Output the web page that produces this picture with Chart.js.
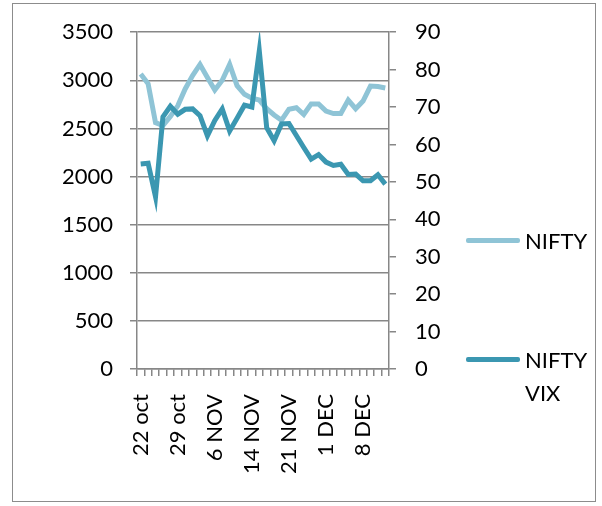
<!DOCTYPE html>
<html>
<head>
<meta charset="utf-8">
<script src="https://cdn.jsdelivr.net/npm/chart.js@4.4.1/dist/chart.umd.min.js"></script>
<style>
  html, body { margin: 0; padding: 0; background: #ffffff; }
  #wrap { position: relative; width: 602px; height: 506px; font-family: 'Lato', sans-serif; }
  #frame { position: absolute; left: 12px; top: 3px; width: 582px; height: 497px; border: 1.5px solid #8c8c8c; }
  #chartNifty { position: absolute; left: 0; top: 0; }
  .legend-item { position: absolute; left: 466px; font-size: 22px; color: #000; line-height: 33px; }
  .legend-line { position: absolute; left: 0; width: 54px; height: 5px; border-radius: 2px; }
  .legend-text { position: absolute; left: 59px; white-space: nowrap; }
</style>
</head>
<body>
<div id="wrap">
  <div id="frame"></div>
  <canvas id="chartNifty" width="602" height="506"></canvas>
  <div id="legend"></div>
</div>
<script>
// nhãn trục X (chỉ hiện mỗi 5 phiên)
const categories = [
  '22 oct', '', '', '', '',
  '29 oct', '', '', '', '',
  '6 NOV', '', '', '', '',
  '14 NOV', '', '', '', '',
  '21 NOV', '', '', '', '',
  '1 DEC', '', '', '', '',
  '8 DEC', '', '', ''
];

// NIFTY (trục trái)
const niftyValues = [
  3065, 2965, 2560, 2530, 2625, 2735, 2910, 3050, 3165, 3030,
  2900, 3000, 3165, 2945, 2855, 2815, 2795, 2705, 2640, 2585,
  2700, 2715, 2645, 2755, 2755, 2680, 2655, 2655, 2795, 2705,
  2785, 2940, 2935, 2920
];

// NIFTY VIX (trục phải)
const vixValues = [
  54.8, 55.0, 46.0, 67.4, 70.2, 68.1, 69.4, 69.5, 67.7, 62.3,
  66.4, 69.5, 63.6, 67.0, 70.5, 70.0, 85.0, 64.5, 61.0, 65.5,
  65.6, 62.4, 59.2, 56.1, 57.3, 55.3, 54.4, 54.7, 52.0, 52.1,
  50.3, 50.3, 51.9, 49.4
];

const leftTicks = { min: 0, max: 3500, step: 500 };
const rightTicks = { min: 0, max: 90, step: 10 };

const seriesNames = ['NIFTY', 'NIFTY VIX'];
const seriesColors = ['#8fc4d6', '#3b97b1'];

const axisGray = '#878787';

Chart.defaults.font.family = "'Lato', sans-serif";
Chart.defaults.font.size = 22;
Chart.defaults.color = '#000000';

// số không có dấu phẩy ngăn cách
function plainNumber(value) { return String(value); }

const ctx = document.getElementById('chartNifty');
const chart = new Chart(ctx, {
    type: 'line',
    data: {
        labels: categories,
        datasets: [
            { label: seriesNames[0], data: niftyValues, yAxisID: 'y', borderColor: seriesColors[0], backgroundColor: seriesColors[0], borderWidth: 5, pointRadius: 0, tension: 0, order: 1 },
            { label: seriesNames[1], data: vixValues, yAxisID: 'y1', borderColor: seriesColors[1], backgroundColor: seriesColors[1], borderWidth: 5, pointRadius: 0, tension: 0, order: 0 }
        ]
    },
    options: {
        responsive: false,
        animation: false,
        devicePixelRatio: 1,
        layout: { padding: { top: 31, left: 0, right: 0, bottom: 0 } },
        plugins: { legend: { display: false }, tooltip: { enabled: false } },
        scales: {
            x: {
                offset: true,
                grid: { offset: true, drawOnChartArea: false, drawTicks: true, tickLength: 7, color: axisGray, lineWidth: 1.5 },
                border: { color: axisGray, width: 1.5 },
                ticks: { autoSkip: false, maxRotation: 90, minRotation: 90, padding: 18 },
                afterFit: function(scale) { scale.height = 506 - 369; }
            },
            y: {
                position: 'left',
                min: leftTicks.min, max: leftTicks.max,
                grid: { color: axisGray, lineWidth: 1.5, tickLength: 7 },
                border: { color: axisGray, width: 1.5 },
                ticks: { stepSize: leftTicks.step, padding: 17, callback: plainNumber },
                afterFit: function(scale) { scale.width = 137; }
            },
            y1: {
                position: 'right',
                min: rightTicks.min, max: rightTicks.max,
                grid: { drawOnChartArea: false, color: axisGray, lineWidth: 1.5, tickLength: 7 },
                border: { color: axisGray, width: 1.5 },
                ticks: { stepSize: rightTicks.step, padding: 19, callback: plainNumber },
                afterFit: function(scale) { scale.width = 602 - 389; }
            }
        }
    }
});

// chú thích dạng HTML (nhãn "NIFTY VIX" xuống dòng như bản gốc)
const legendBox = document.getElementById('legend');
const legendTops = [224, 343];
chart.data.datasets.forEach(function(ds, i) {
    const item = document.createElement('div');
    item.className = 'legend-item';
    item.style.top = legendTops[i] + 'px';
    const line = document.createElement('div');
    line.className = 'legend-line';
    line.style.top = '14px';
    line.style.background = ds.borderColor;
    const txt = document.createElement('div');
    txt.className = 'legend-text';
    txt.innerHTML = ds.label.split(' ').join('<br>');
    item.appendChild(line);
    item.appendChild(txt);
    legendBox.appendChild(item);
});
</script>
</body>
</html>
